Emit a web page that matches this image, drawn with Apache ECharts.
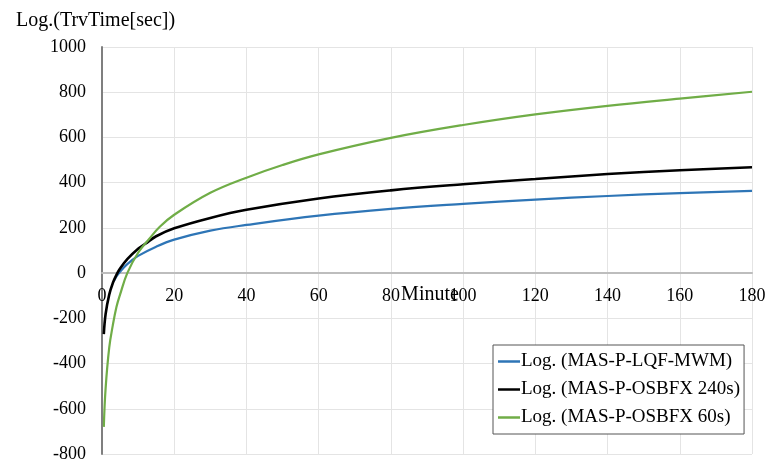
<!DOCTYPE html>
<html>
<head>
<meta charset="utf-8">
<script src="https://cdn.jsdelivr.net/npm/echarts@6/dist/echarts.min.js"></script>
<style>
	html, body { margin: 0; padding: 0; background: #ffffff; }
	#chart { width: 766px; height: 459px; }
</style>
</head>
<body>
<div id="chart"></div>
<script>
// values
var seriesNames = ["Log. (MAS-P-LQF-MWM)", "Log. (MAS-P-OSBFX 240s)", "Log. (MAS-P-OSBFX 60s)"];
var xTicks = [0, 20, 40, 60, 80, 100, 120, 140, 160, 180];
var yTicks = [-800, -600, -400, -200, 0, 200, 400, 600, 800, 1000];

var blueX = [3.3, 4, 5, 7, 10, 15, 20, 30, 40, 60, 80, 100, 120, 140, 160, 180];
var blueY = [-35, -15, 6, 40, 76, 117, 148, 188, 213, 254, 284, 306, 325, 341, 354, 364];

var blackX = [0.5, 1, 2, 3, 4, 5, 7, 10, 12, 15, 20, 30, 40, 60, 80, 100, 120, 140, 160, 180];
var blackY = [-270, -181, -95, -44, -8, 20, 62, 108, 130, 163, 198, 244, 280, 330, 366, 393, 416, 438, 455, 468];

var greenX = [0.5, 1, 2, 3, 4, 5, 7, 10, 13, 16, 20, 30, 40, 50, 60, 80, 100, 120, 140, 160, 180];
var greenY = [-680, -510, -330, -230, -150, -95, 0, 90, 150, 205, 258, 355, 422, 478, 525, 598, 655, 702, 740, 772, 802];

function pairs(xs, ys) {
	return xs.map(function (x, i) {
		return [x, ys[i]];
	});
}

function setOption(chart) {
	const serif = "Liberation Serif";
	const gridTop = 47;
	const gridBottom = 5;
	// the x axis sits on the zero line, so shift it up from the grid bottom
	const plotH = 459 - gridTop - gridBottom;
	const zeroOffset = -plotH * (0 - yTicks[0]) / (yTicks[yTicks.length - 1] - yTicks[0]);
	const option = {
		backgroundColor: "#ffffff",
		color: ["#2e75b6", "#000000", "#70ad47"],
		animation: false,
		title: {
			text: "Log.(TrvTime[sec])",
			left: 11,
			top: 6,
			textStyle: {
				fontFamily: serif,
				fontSize: 20,
				fontWeight: "normal",
				color: "#000"
			}
		},
		grid: {
			left: 102,
			right: 14,
			top: gridTop,
			bottom: gridBottom,
			containLabel: false,
			outerBoundsMode: "none"
		},
		legend: {
			orient: "vertical",
			left: 493,
			top: 345,
			padding: [7, 4, 7, 5],
			itemGap: 9,
			itemWidth: 22,
			itemHeight: 2.5,
			icon: "rect",
			backgroundColor: "#ffffff",
			borderColor: "#555555",
			borderWidth: 1,
			borderRadius: 0,
			textStyle: {
				fontFamily: serif,
				fontSize: 19,
				lineHeight: 19,
				color: "#000",
				padding: [0, 0, 0, -4]
			},
			data: seriesNames
		},
		xAxis: {
			type: "value",
			min: xTicks[0],
			max: xTicks[xTicks.length - 1],
			interval: 20,
			offset: zeroOffset,
			name: "Minute",
			nameLocation: "middle",
			nameGap: 12,
			nameMoveOverlap: false,
			nameTextStyle: {
				fontFamily: serif,
				fontSize: 20,
				color: "#000",
				verticalAlign: "top",
				padding: [0, 0, 0, 6]
			},
			axisLine: {
				onZero: false,
				lineStyle: { color: "#bdbdbd", width: 2 }
			},
			axisTick: { show: false },
			axisLabel: {
				margin: 14,
				fontFamily: serif,
				fontSize: 18,
				color: "#000"
			},
			splitLine: {
				show: true,
				lineStyle: { color: "#e4e4e4", width: 1 }
			}
		},
		yAxis: {
			type: "value",
			min: yTicks[0],
			max: yTicks[yTicks.length - 1],
			interval: 200,
			axisLine: {
				show: true,
				onZero: false,
				lineStyle: { color: "#7f7f7f", width: 2 }
			},
			axisTick: { show: false },
			axisLabel: {
				margin: 16,
				fontFamily: serif,
				fontSize: 18,
				color: "#000",
				formatter: function (v) {
					return String(v);
				}
			},
			splitLine: {
				show: true,
				lineStyle: { color: "#e4e4e4", width: 1 }
			}
		},
		series: [{
			name: seriesNames[0],
			type: "line",
			smooth: 0.4,
			symbol: "none",
			lineStyle: { width: 2.2 },
			z: 3,
			data: pairs(blueX, blueY)
		}, {
			name: seriesNames[1],
			type: "line",
			smooth: 0.4,
			symbol: "none",
			lineStyle: { width: 2.6 },
			z: 4,
			data: pairs(blackX, blackY)
		}, {
			name: seriesNames[2],
			type: "line",
			smooth: 0.4,
			symbol: "none",
			lineStyle: { width: 2.2 },
			z: 5,
			data: pairs(greenX, greenY)
		}]
	};
	chart.setOption(option);
}

var chart = echarts.init(document.getElementById("chart"), null, { renderer: "canvas" });
setOption(chart);
</script>
</body>
</html>
